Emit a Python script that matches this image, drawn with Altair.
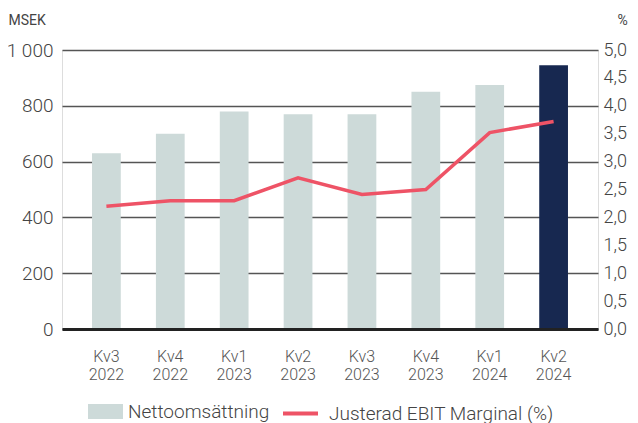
import altair as alt
import pandas as pd

quarters = ["Kv3 2022", "Kv4 2022", "Kv1 2023", "Kv2 2023", "Kv3 2023", "Kv4 2023", "Kv1 2024", "Kv2 2024"]
net_sales = [630, 700, 780, 770, 770, 850, 875, 945]
ebit_margin = [2.20, 2.30, 2.30, 2.71, 2.41, 2.50, 3.52, 3.72]
bar_series = "Nettoomsättning"
line_series = "Justerad EBIT Marginal (%)"
left_ticks = [0, 200, 400, 600, 800, 1000]
right_ticks = [0, 0.5, 1, 1.5, 2, 2.5, 3, 3.5, 4, 4.5, 5]

df = pd.DataFrame({
    "Kvartal": quarters,
    "Netto": net_sales,
    "Marginal": ebit_margin,
    "bar_series": [bar_series] * len(quarters),
    "line_series": [line_series] * len(quarters),
})

FONT = "Roboto"
TXT = "#444444"

base = alt.Chart(df).encode(
    x=alt.X(
        "Kvartal:N",
        sort=quarters,
        scale=alt.Scale(paddingInner=0.55, paddingOuter=0.47),
        axis=alt.Axis(
            title=None,
            labelAngle=0,
            labelExpr="split(datum.label, ' ')",
            ticks=False,
            domain=True,
            domainColor="#222222",
            domainWidth=3,
            labelPadding=19,
            labelFontSize=16,
            labelLineHeight=18,
            labelColor="#555555",
            zindex=1,
        ),
    )
)

bars = base.mark_bar().encode(
    y=alt.Y(
        "Netto:Q",
        scale=alt.Scale(domain=[0, 1000], nice=False),
        axis=alt.Axis(
            values=left_ticks,
            grid=True,
            gridColor="#555555",
            gridWidth=1.6,
            domain=False,
            ticks=False,
            labelExpr="replace(format(datum.value, ',d'), ',', ' ')",
            labelFontSize=19,
            labelPadding=9,
            labelColor=TXT,
            title="MSEK",
            titleAngle=0,
            titleX=-54,
            titleY=-30,
            titleAlign="left",
            titleBaseline="middle",
            titleFontSize=14,
            titleFontWeight="normal",
            titleColor=TXT,
        ),
    ),
    color=alt.condition(
        alt.datum.Kvartal == "Kv2 2024",
        alt.value("#172850"),
        alt.Color(
            "bar_series:N",
            scale=alt.Scale(range=["#CDDAD9"]),
            legend=alt.Legend(
                title=None,
                orient="none",
                legendX=26,
                legendY=344,
                padding=0,
                symbolType="M-1,-0.43L1,-0.43L1,0.43L-1,0.43Z",
                symbolSize=1225,
                symbolStrokeWidth=0,
                labelFontSize=19,
                labelOffset=5,
                labelLimit=400,
                labelColor=TXT,
                labelFont=FONT,
            ),
        ),
    ),
)

line = base.mark_line(strokeWidth=3.5).encode(
    y=alt.Y(
        "Marginal:Q",
        scale=alt.Scale(domain=[0, 5], nice=False),
        axis=alt.Axis(
            orient="right",
            values=right_ticks,
            grid=False,
            domain=False,
            ticks=False,
            labelExpr="replace(format(datum.value, '.1f'), '.', ',')",
            labelFontSize=18,
            labelPadding=5,
            labelColor=TXT,
            title="%",
            titleAngle=0,
            titleX=24,
            titleY=-30,
            titleAlign="center",
            titleBaseline="middle",
            titleFontSize=14,
            titleFontWeight="normal",
            titleColor=TXT,
        ),
    ),
    stroke=alt.Stroke(
        "line_series:N",
        scale=alt.Scale(range=["#EE5366"]),
        legend=alt.Legend(
            title=None,
            orient="none",
            legendX=219,
            legendY=344,
            padding=0,
            symbolType="stroke",
            symbolSize=1225,
            symbolStrokeWidth=4,
            labelFontSize=19,
            labelOffset=9,
            labelLimit=400,
            labelColor=TXT,
            labelFont=FONT,
        ),
    ),
)

chart = (
    alt.layer(bars, line)
    .resolve_scale(y="independent", color="independent")
    .properties(
        width=536,
        height=279,
        autosize=alt.AutoSizeParams(type="none"),
        padding={"left": 54, "top": 42, "right": 32, "bottom": 100},
    )
    .configure_view(stroke=None)
    .configure(font=FONT)
    .configure_axis(labelFont=FONT, titleFont=FONT, labelFontWeight=300)
    .configure_legend(labelFontWeight=300)
)

chart.save("out.html", embed_options={"renderer": "svg", "actions": False})
